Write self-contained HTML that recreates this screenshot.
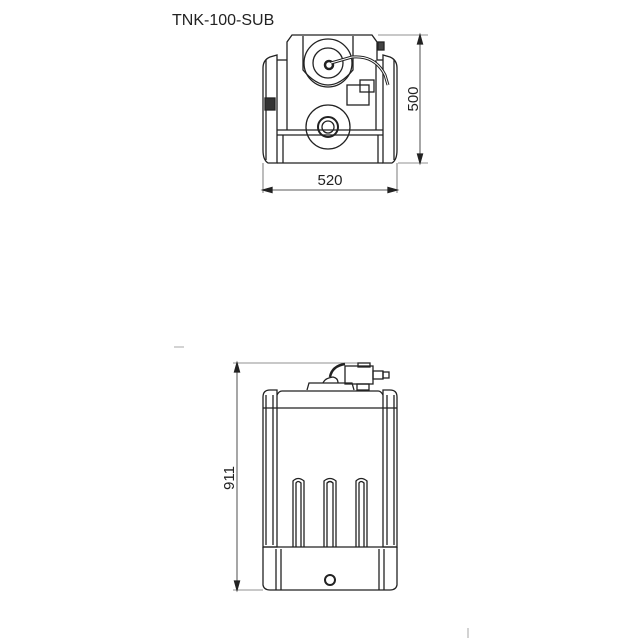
<!DOCTYPE html>
<html><head><style>body{margin:0;background:#fff}svg{display:block}</style></head><body>
<svg width="640" height="640" viewBox="0 0 640 640" xmlns="http://www.w3.org/2000/svg" fill="none" stroke="#222" stroke-width="1.3">
<text x="172" y="25" font-family="Liberation Sans, sans-serif" font-size="16" fill="#222" stroke="none">TNK-100-SUB</text>
<!-- top view -->
<path d="M270 57 L277 55 L277 163 L268 163 Q263 160 263 150 L263 68 Q263 60 270 57Z"/>
<path d="M390 57 L383 55 L383 163 L392 163 Q397 160 397 150 L397 68 Q397 60 390 57Z"/>
<line x1="266" y1="60" x2="266" y2="160"/><line x1="394" y1="60" x2="394" y2="160"/>
<rect x="265" y="98" width="10" height="12" fill="#333"/>
<path d="M287 60 L287 42 L292 35 L372 35 L377 42 L377 60"/>
<line x1="277" y1="60" x2="287" y2="60"/><line x1="377" y1="60" x2="383" y2="60"/>
<line x1="287" y1="60" x2="287" y2="130"/><line x1="376" y1="60" x2="376" y2="130"/>
<line x1="277" y1="130" x2="383" y2="130"/><line x1="277" y1="135" x2="383" y2="135"/>
<line x1="277" y1="163" x2="383" y2="163"/>
<line x1="283" y1="163" x2="283" y2="135"/><line x1="378" y1="163" x2="378" y2="135"/>
<path d="M303 36 L303 70 Q328 100 353 70 L353 36"/>
<circle cx="328" cy="63" r="24"/><circle cx="328" cy="63" r="15"/>
<circle cx="329" cy="65" r="4" stroke-width="2.5"/>
<path d="M331 63 L352 57 Q375 55 385 75 L388 85" stroke-width="3"/>
<path d="M331 63 L352 57 Q375 55 385 75 L388 85" stroke="#fff" stroke-width="1"/>
<rect x="347" y="85" width="22" height="20"/><rect x="360" y="80" width="14" height="12"/>
<rect x="378" y="42" width="6" height="8" fill="#444"/>
<circle cx="328" cy="127" r="22"/><circle cx="328" cy="127" r="10" stroke-width="2"/><circle cx="328" cy="127" r="6"/>
<line x1="420" y1="35" x2="420" y2="163" stroke-width="0.8"/>
<line x1="378" y1="35" x2="428" y2="35" stroke-width="0.6"/><line x1="398" y1="163" x2="428" y2="163" stroke-width="0.6"/>
<path d="M420 35 l-2.5 9 h5z M420 163 l-2.5 -9 h5z" fill="#222"/>
<text transform="translate(418,99) rotate(-90)" text-anchor="middle" font-family="Liberation Sans, sans-serif" font-size="15" fill="#222" stroke="none">500</text>
<line x1="263" y1="190" x2="397" y2="190" stroke-width="0.8"/>
<line x1="263" y1="163" x2="263" y2="193" stroke-width="0.6"/><line x1="397" y1="163" x2="397" y2="193" stroke-width="0.6"/>
<path d="M263 190 l9 -2.5 v5z M397 190 l-9 -2.5 v5z" fill="#222"/>
<text x="330" y="185" text-anchor="middle" font-family="Liberation Sans, sans-serif" font-size="15" fill="#222" stroke="none">520</text>
<!-- front view -->
<line x1="174" y1="347" x2="184" y2="347" stroke="#bbb"/>
<path d="M270 390 L277 390 L277 547 L263 547 L263 397 Q263 390 270 390Z"/>
<path d="M390 390 L383 390 L383 547 L397 547 L397 397 Q397 390 390 390Z"/>
<line x1="266" y1="395" x2="266" y2="545"/><line x1="394" y1="395" x2="394" y2="545"/>
<line x1="273" y1="395" x2="273" y2="545"/><line x1="387" y1="395" x2="387" y2="545"/>
<path d="M277 395 Q279 391 282 391 L378 391 Q381 391 383 395"/>
<line x1="263" y1="408" x2="397" y2="408"/>
<line x1="263" y1="547" x2="397" y2="547"/>
<path d="M263 547 L263 585 Q264 590 270 590 L390 590 Q396 590 397 585 L397 547"/>
<line x1="276" y1="549" x2="276" y2="590"/><line x1="281" y1="549" x2="281" y2="590"/>
<line x1="379" y1="549" x2="379" y2="590"/><line x1="384" y1="549" x2="384" y2="590"/>
<path d="M293 547 L293 481 Q298 476 304 481 L304 547 M296 547 L296 483 Q298 480 301 483 L301 547"/>
<path d="M324 547 L324 481 Q330 476 336 481 L336 547 M327 547 L327 483 Q330 480 333 483 L333 547"/>
<path d="M356 547 L356 481 Q361 476 367 481 L367 547 M359 547 L359 483 Q361 480 364 483 L364 547"/>
<circle cx="330" cy="580" r="5" stroke-width="2"/>
<path d="M307 390 L309 383 L352 383 L354 390"/>
<path d="M323 383 Q325 378 333 377 Q338 378 338 383"/>
<path d="M330 377 Q332 366 345 364" stroke-width="2.5"/>
<rect x="345" y="366" width="28" height="18"/><rect x="358" y="363" width="12" height="4"/>
<rect x="373" y="371" width="10" height="8"/><rect x="383" y="372" width="6" height="6"/>
<rect x="357" y="384" width="12" height="6"/>
<line x1="237" y1="363" x2="237" y2="590" stroke-width="0.8"/>
<line x1="233" y1="363" x2="360" y2="363" stroke-width="0.6"/><line x1="233" y1="590" x2="263" y2="590" stroke-width="0.6"/>
<path d="M237 363 l-2.5 9 h5z M237 590 l-2.5 -9 h5z" fill="#222"/>
<text transform="translate(234,478) rotate(-90)" text-anchor="middle" font-family="Liberation Sans, sans-serif" font-size="15" fill="#222" stroke="none">911</text>
<line x1="468" y1="628" x2="468" y2="638" stroke="#bbb"/>
</svg>
</body></html>
